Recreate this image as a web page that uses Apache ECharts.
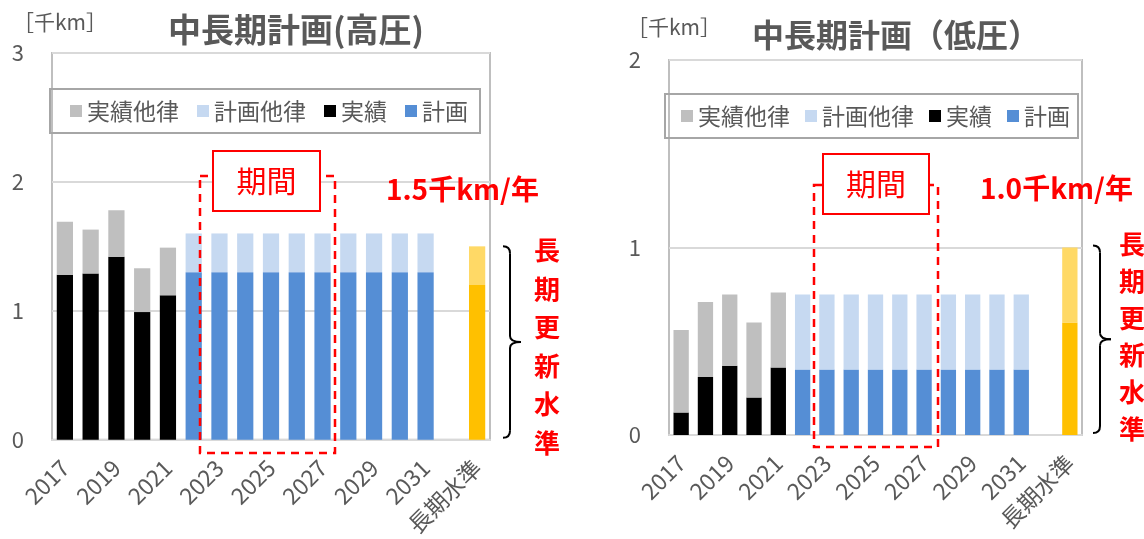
<!DOCTYPE html>
<html>
<head>
<meta charset="utf-8">
<script src="https://cdn.jsdelivr.net/npm/echarts@6/dist/echarts.min.js"></script>
<style>
html, body { margin: 0; padding: 0; background: #fff; }
#chart { width: 1144px; height: 539px; }
</style>
</head>
<body>
<div id="chart"></div>
<script>
const categories = ['2017', '2018', '2019', '2020', '2021', '2022', '2023', '2024', '2025',
  '2026', '2027', '2028', '2029', '2030', '2031', '', '長期水準'];
const legendNames = ['実績他律', '計画他律', '実績', '計画'];

// 高圧 [千km]
const highActual = [1.28, 1.29, 1.42, 0.99, 1.12];
const highActualOther = [0.41, 0.34, 0.36, 0.34, 0.37];
const highPlan = [1.3, 1.3, 1.3, 1.3, 1.3, 1.3, 1.3, 1.3, 1.3, 1.3];
const highPlanOther = [0.3, 0.3, 0.3, 0.3, 0.3, 0.3, 0.3, 0.3, 0.3, 0.3];
const highLongTerm = 1.2;
const highLongTermOther = 0.3;

// 低圧 [千km]
const lowActual = [0.12, 0.31, 0.37, 0.20, 0.36];
const lowActualOther = [0.44, 0.40, 0.38, 0.40, 0.40];
const lowPlan = [0.35, 0.35, 0.35, 0.35, 0.35, 0.35, 0.35, 0.35, 0.35, 0.35];
const lowPlanOther = [0.40, 0.40, 0.40, 0.40, 0.40, 0.40, 0.40, 0.40, 0.40, 0.40];
const lowLongTerm = 0.6;
const lowLongTermOther = 0.4;

const FONT = 'Noto Sans CJK JP';
const GREY = '#595959';
const RED = '#FF0000';
const longIdx = categories.indexOf('長期水準');
const planStart = highActual.length;

function place(values, start) {
  const arr = categories.map(() => null);
  values.forEach((v, i) => { arr[start + i] = v; });
  return arr;
}

function makeSeries(g, actual, actualOther, plan, planOther, longTerm, longTermOther) {
  const planData = place(plan, planStart);
  planData[longIdx] = { value: longTerm, itemStyle: { color: '#FFC000' } };
  const planOtherData = place(planOther, planStart);
  planOtherData[longIdx] = { value: longTermOther, itemStyle: { color: '#FFD966' } };
  const base = { type: 'bar', xAxisIndex: g, yAxisIndex: g, stack: 'total' + g, barWidth: '63%' };
  return [
    { ...base, name: '実績', data: place(actual, 0), itemStyle: { color: '#000000' } },
    { ...base, name: '計画', data: planData, itemStyle: { color: '#558ED5' } },
    { ...base, name: '実績他律', data: place(actualOther, 0), itemStyle: { color: '#BFBFBF' } },
    { ...base, name: '計画他律', data: planOtherData, itemStyle: { color: '#C6D9F1' } }
  ];
}

function xAxis(g) {
  return {
    type: 'category', gridIndex: g, data: categories,
    axisLine: { lineStyle: { color: '#D9D9D9', width: 2 } },
    axisTick: { show: false },
    axisLabel: { interval: 1, rotate: 45, margin: 24, fontSize: 23, color: GREY, fontFamily: FONT,
      padding: [14, 0, 0, 0] }
  };
}

function yAxis(g, max) {
  return {
    type: 'value', gridIndex: g, min: 0, max: max, interval: 1,
    axisLine: { show: false }, axisTick: { show: false },
    splitLine: { lineStyle: { color: '#D9D9D9', width: 2 } },
    axisLabel: { margin: 28, fontSize: 22, color: GREY, fontFamily: FONT }
  };
}

function legend(left, top, padding, gap) {
  return {
    data: legendNames, left: left, top: top, padding: padding, itemGap: gap,
    orient: 'horizontal', selectedMode: false, icon: 'rect', itemWidth: 12, itemHeight: 12,
    borderColor: '#A6A6A6', borderWidth: 2,
    textStyle: { fontSize: 23, color: GREY, fontFamily: FONT, lineHeight: 24 }
  };
}

const chart = echarts.init(document.getElementById('chart'));

chart.setOption({
  animation: false,
  title: [
    { text: '中長期計画(高圧)', left: 168, top: 13, padding: 0,
      textStyle: { fontSize: 33, fontWeight: 'bold', color: GREY, fontFamily: FONT } },
    { text: '中長期計画（低圧）', left: 752, top: 19, padding: 0,
      textStyle: { fontSize: 32, fontWeight: 'bold', color: GREY, fontFamily: FONT } }
  ],
  legend: [
    legend(50, 89, [10, 12, 10, 20], 18),
    legend(665, 94, [10, 8, 10, 16], 15)
  ],
  grid: [
    { left: 52, top: 53, width: 438, height: 387, show: true, borderColor: '#BFBFBF', borderWidth: 2 },
    { left: 669, top: 60, width: 413, height: 375, show: true, borderColor: '#BFBFBF', borderWidth: 2 }
  ],
  xAxis: [xAxis(0), xAxis(1)],
  yAxis: [yAxis(0, 3), yAxis(1, 2)],
  series: [
    ...makeSeries(0, highActual, highActualOther, highPlan, highPlanOther, highLongTerm, highLongTermOther),
    ...makeSeries(1, lowActual, lowActualOther, lowPlan, lowPlanOther, lowLongTerm, lowLongTermOther)
  ]
});

// annotations: unit, 期間 box, long-term text and brace
function brace(x, top, bottom) {
  const mid = (top + bottom) / 2;
  const v = x + 7;
  const st = { stroke: '#000', lineWidth: 2, fill: null };
  const curve = (x1, y1, cx, cy, x2, y2) => ({ type: 'bezierCurve', z: 10, style: st,
    shape: { x1: x1, y1: y1, cpx1: cx, cpy1: cy, x2: x2, y2: y2 } });
  const line = (y1, y2) => ({ type: 'line', z: 10, style: st,
    shape: { x1: v, y1: y1, x2: v, y2: y2 } });
  return [
    curve(x, top, v, top, v, top + 7),
    line(top + 7, mid - 6),
    curve(v, mid - 6, v, mid, v + 11, mid),
    curve(v + 11, mid, v, mid, v, mid + 6),
    line(mid + 6, bottom - 7),
    curve(v, bottom - 7, v, bottom, x, bottom)
  ];
}

function periodBox(x0, x1, top, bottom, bx0, bx1, by0, by1) {
  return [
    { type: 'rect', shape: { x: x0, y: top, width: x1 - x0, height: bottom - top },
      style: { stroke: RED, lineWidth: 2.5, lineDash: [8, 6], fill: null }, z: 10 },
    { type: 'rect', shape: { x: bx0, y: by0, width: bx1 - bx0, height: by1 - by0 },
      style: { stroke: RED, lineWidth: 2, fill: '#fff' }, z: 11 },
    { type: 'text', x: (bx0 + bx1) / 2, y: (by0 + by1) / 2, z: 12,
      style: { text: '期間', fill: RED, fontSize: 30, fontFamily: FONT, align: 'center', verticalAlign: 'middle' } }
  ];
}

function textEl(x, y, text, opts) {
  return { type: 'text', x: x, y: y, z: 12,
    style: Object.assign({ text: text, fontFamily: FONT }, opts) };
}

const hTop = chart.convertToPixel({ yAxisIndex: 0 }, highLongTerm + highLongTermOther);
const hBottom = chart.convertToPixel({ yAxisIndex: 0 }, 0);
const lTop = chart.convertToPixel({ yAxisIndex: 1 }, lowLongTerm + lowLongTermOther);
const lBottom = chart.convertToPixel({ yAxisIndex: 1 }, 0);

const vertical = '長\n期\n更\n新\n水\n準';
const redBold = { fill: RED, fontSize: 26, fontWeight: 'bold' };

chart.setOption({
  graphic: [
    textEl(13, 22, '［千km］', { fill: GREY, fontSize: 21, verticalAlign: 'middle' }),
    textEl(627, 27, '［千km］', { fill: GREY, fontSize: 21, verticalAlign: 'middle' }),
    ...periodBox(200, 335, 176, 453, 213, 320, 151, 211),
    ...periodBox(814, 938, 185, 447, 823, 929, 154, 214),
    textEl(386, 189, '1.5千km/年', Object.assign({ verticalAlign: 'middle' }, redBold, { fontSize: 28 })),
    textEl(980, 188, '1.0千km/年', Object.assign({ verticalAlign: 'middle' }, redBold, { fontSize: 28 })),
    textEl(547, 231, vertical, Object.assign({ align: 'center', verticalAlign: 'top', lineHeight: 38.5 }, redBold)),
    textEl(1132, 226, vertical, Object.assign({ align: 'center', verticalAlign: 'top', lineHeight: 37 }, redBold)),
    ...brace(503, hTop, hBottom - 2),
    ...brace(1093, lTop - 2, lBottom - 2)
  ]
});
</script>
</body>
</html>
